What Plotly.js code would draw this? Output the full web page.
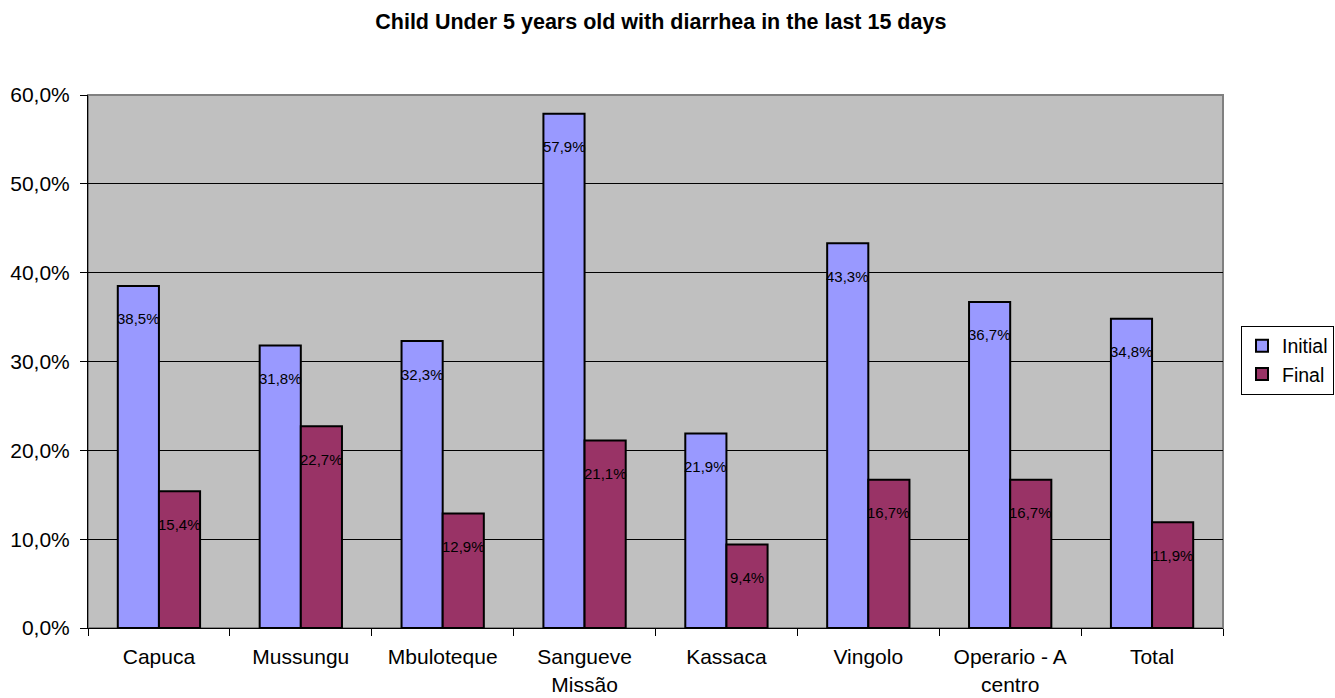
<!DOCTYPE html>
<html>
<head>
<meta charset="utf-8">
<script src="https://cdn.plot.ly/plotly-3.0.1.min.js"></script>
<style>html,body{margin:0;padding:0;background:#fff;}#chart{width:1335px;height:698px;}</style>
</head>
<body>
<div id="chart"></div>
<script>
const categories = ["Capuca", "Mussungu", "Mbuloteque", "Sangueve<br>Missão", "Kassaca", "Vingolo", "Operario - A<br>centro", "Total"];
const initialValues = [38.5, 31.8, 32.3, 57.9, 21.9, 43.3, 36.7, 34.8];
const finalValues = [15.4, 22.7, 12.9, 21.1, 9.4, 16.7, 16.7, 11.9];
const seriesNames = ["Initial", "Final"];
const yTicks = [0, 10, 20, 30, 40, 50, 60];

function fmt(v) { return v.toFixed(1).replace('.', ',') + '%'; }

const traces = [
  {type: 'bar', name: seriesNames[0], x: categories, y: initialValues,
   marker: {color: '#9999FF', line: {color: '#000000', width: 2}}, hoverinfo: 'none'},
  {type: 'bar', name: seriesNames[1], x: categories, y: finalValues,
   marker: {color: '#993366', line: {color: '#000000', width: 2}}, hoverinfo: 'none'}
];

const annotations = [];
[initialValues, finalValues].forEach((vals, si) => {
  vals.forEach((v, i) => {
    annotations.push({
      x: categories[i], y: v, xref: 'x', yref: 'y',
      text: fmt(v), showarrow: false,
      xshift: si === 0 ? -20.5 : 20.5, yshift: -33,
      yanchor: 'middle', xanchor: 'center',
      font: {family: 'Arial, Liberation Sans, sans-serif', size: 15, color: '#000'}
    });
  });
});

const layout = {
  width: 1335, height: 698,
  margin: {l: 88, r: 112, t: 95, b: 70, autoexpand: false},
  paper_bgcolor: '#FFFFFF',
  plot_bgcolor: '#C0C0C0',
  separators: ',.',
  font: {family: 'Arial, Liberation Sans, sans-serif', size: 21, color: '#000'},
  title: {
    text: '<b>Child Under 5 years old with diarrhea in the last 15 days</b>',
    x: 0.495, xanchor: 'center', y: 1 - 21/698, yanchor: 'middle', yref: 'container',
    font: {family: 'Arial, Liberation Sans, sans-serif', size: 21.5, color: '#000'}
  },
  barmode: 'group',
  bargap: 0.42,
  bargroupgap: 0,
  showlegend: true,
  legend: {
    xref: 'container', yref: 'container',
    x: 1241/1335, xanchor: 'left', y: 1 - 360/698, yanchor: 'middle',
    bgcolor: '#FFFFFF', bordercolor: '#000000', borderwidth: 1,
    font: {size: 19.5, color: '#000'},
    itemwidth: 30,
    itemclick: false, tracegroupgap: 0
  },
  xaxis: {
    type: 'category',
    showgrid: false,
    showline: true, linecolor: '#000000', linewidth: 1,
    ticks: 'outside', tickson: 'boundaries', ticklen: 7, tickcolor: '#000',
    ticklabelstandoff: 10,
    tickfont: {size: 21, color: '#000'},
    fixedrange: true
  },
  yaxis: {
    range: [0, 60],
    tickmode: 'array',
    tickvals: yTicks,
    ticktext: yTicks.map(fmt),
    showgrid: true, gridcolor: '#000000', gridwidth: 1,
    showline: true, linecolor: '#000000', linewidth: 1,
    ticks: 'outside', ticklen: 7, tickcolor: '#000',
    ticklabelstandoff: 6,
    tickfont: {size: 21, color: '#000'},
    zeroline: false,
    fixedrange: true
  },
  shapes: [
    {type: 'rect', xref: 'paper', yref: 'paper', x0: 0, x1: 1, y0: 0, y1: 1,
     line: {color: '#808080', width: 2}, fillcolor: 'rgba(0,0,0,0)', layer: 'below'}
  ],
  annotations: annotations
};

Plotly.newPlot('chart', traces, layout, {displayModeBar: false, staticPlot: true});
</script>
</body>
</html>
